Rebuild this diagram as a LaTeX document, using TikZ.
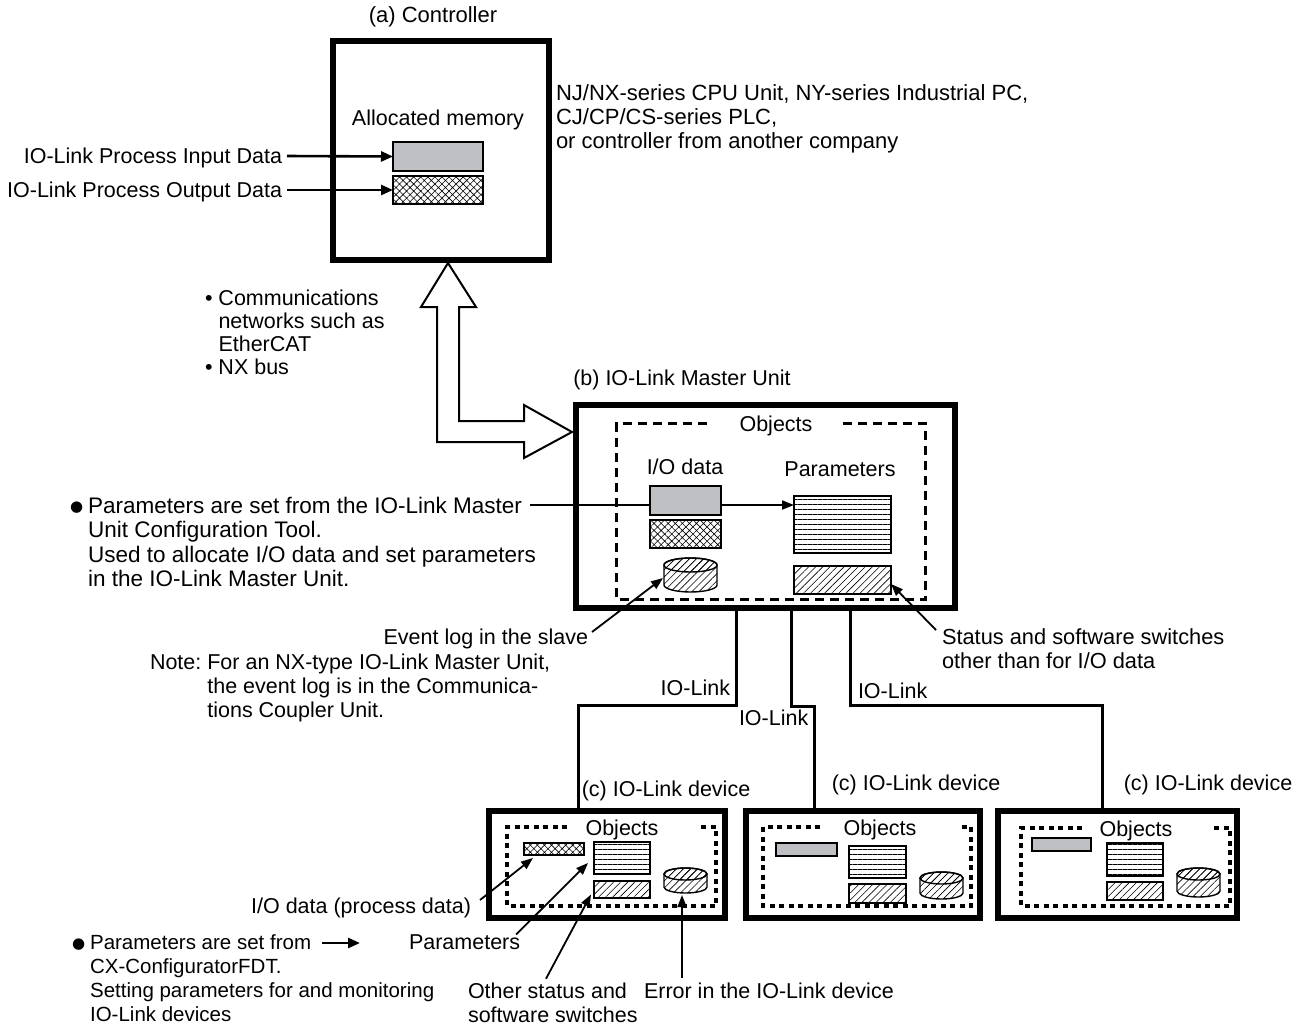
\documentclass[tikz,border=0pt]{standalone}
\usepackage{fontspec}
\setmainfont{Liberation Sans}
\newfontfamily\symfont{DejaVu Sans}
\usetikzlibrary{arrows.meta,patterns.meta,backgrounds,calc}
\definecolor{memgray}{RGB}{190,192,196}
\newcommand\dfs{\fontsize{21.5}{24}\selectfont}
\newcommand\bigbul{\raisebox{1.5pt}{\symfont\fontsize{15}{15}\selectfont ●}}
\newcommand\ocyl[5]{%
  \draw[line width=1.4pt, dlines] (#1-#4,#2) -- (#1-#4,#3)
    arc[start angle=180,end angle=360,x radius=#4pt,y radius=#5pt]
    -- (#1+#4,#2)
    arc[start angle=0,end angle=180,x radius=#4pt,y radius=#5pt] -- cycle;
  \draw[line width=1.4pt, dlines] (#1,#2) ellipse[x radius=#4pt, y radius=#5pt];}
\begin{document}
\begin{tikzpicture}[x=1pt,y=-1pt, font=\dfs,
  txt/.style={inner sep=0pt, outer sep=0pt, text height=15pt, text depth=0pt},
  blk/.style={inner sep=0pt, outer sep=0pt, anchor=north west},
  bigbox/.style={draw, line width=6pt, inner sep=0pt, outer sep=0pt},
  devbox/.style={draw, line width=6pt, inner sep=0pt, outer sep=0pt},
  mem/.style={draw, line width=1.5pt, inner sep=0pt, outer sep=0pt},
  grayfill/.style={fill=memgray},
  xhatch/.style={pattern={Hatch[angle=45,distance=5pt,line width=0.6pt]}},
  hlines/.style={pattern={Lines[angle=0,distance=5pt,line width=0.7pt]}},
  dlines/.style={pattern={Lines[angle=45,distance=5pt,line width=0.6pt]}},
  ptr/.style={line width=1.8pt, -{Triangle[length=12pt,width=9pt]}},
  cptr/.style={line width=2.6pt, -{Triangle[length=12pt,width=10pt]}},
  link/.style={line width=3pt},
  objm/.style={line width=3pt, dash pattern=on 9pt off 6pt},
  objd/.style={line width=3.5pt, dash pattern=on 5pt off 4.5pt},
  hollow/.style={draw, line width=2pt, fill=white, line join=miter},
]
\useasboundingbox (0,0) rectangle (1302,1029);

% ---------------- Controller ----------------
\node[txt, font=\fontsize{22}{24}\selectfont] (actl) at (433,15) {(a) Controller};
\node[bigbox, minimum width=216pt, minimum height=219pt] (ctrl) at (441,150.5) {};
\node[txt] (alloc) at (438,118) {Allocated memory};
\node[mem, grayfill, minimum width=90pt, minimum height=29pt] (cin) at (438,156.5) {};
\node[mem, xhatch, minimum width=90pt, minimum height=28pt] (cout) at (438,190) {};
\node[txt, anchor=east] (inlbl) at (282,156) {IO-Link Process Input Data};
\node[txt, anchor=east] (outlbl) at (282,190) {IO-Link Process Output Data};
\draw[cptr] ([xshift=5pt]inlbl.east) -- (cin.west);
\draw[cptr] ([xshift=5pt]outlbl.east) -- (cout.west);

\node[blk] (ctypes) at (556,83.5) {\fontsize{22}{24}\selectfont\begin{tabular}{@{}l@{}}NJ/NX-series CPU Unit, NY-series Industrial PC,\\CJ/CP/CS-series PLC,\\or controller from another company\end{tabular}};

% network text
\node[blk] (netlbl) at (205,289.4) {\fontsize{21.5}{23}\selectfont\begin{tabular}{@{}l@{\ }l@{}}•&Communications\\&networks such as\\&EtherCAT\\•&NX bus\end{tabular}};

% ---------------- Master ----------------
\node[txt] (bmlbl) at (682,378) {(b) IO-Link Master Unit};
\node[bigbox, minimum width=379pt, minimum height=203pt] (master) at (765.5,506.5) {};

% hollow double arrow
\draw[hollow] (448,263) -- (476,307) -- (459,307) -- (459,421) -- (524,421) -- (524,405)
  -- (572,432) -- (524,458) -- (524,442) -- (437,442) -- (437,307) -- (421,307) -- cycle;

\draw[objm] (707,423.5) -- (616.5,423.5) -- (616.5,599.5) -- (925.5,599.5) -- (925.5,423.5) -- (842,423.5);
\node[txt] (mobj) at (776,424) {Objects};
\node[txt] (mio) at (685,467) {I/O data};
\node[txt] (mpar) at (840,469) {Parameters};
\node[mem, grayfill, minimum width=71pt, minimum height=29pt] (mgray) at (685.5,500.5) {};
\node[mem, xhatch, minimum width=71pt, minimum height=28pt] (mx) at (685.5,534) {};
\node[mem, hlines, minimum width=97pt, minimum height=57pt] (mparam) at (842.5,524.5) {};
\node[mem, dlines, minimum width=97pt, minimum height=28pt] (mhatch) at (842.5,580) {};
\ocyl{690.5}{565}{585}{26.5}{7}
\coordinate (mcyl) at (663,578);

\node[blk] (mbullet) at (70,496.2) {\fontsize{22.5}{24.5}\selectfont\begin{tabular}{@{}l@{\hspace{5pt}}l@{}}\bigbul&Parameters are set from the IO-Link Master\\&Unit Configuration Tool.\\&Used to allocate I/O data and set parameters\\&in the IO-Link Master Unit.\end{tabular}};
\coordinate (mp0) at (530,505);
\begin{pgfonlayer}{background}
\draw[ptr] (mp0) -- (mp0 -| mparam.west);
\end{pgfonlayer}

\node[txt, anchor=east] (evlbl) at (588,637) {Event log in the slave};
\draw[ptr] ([xshift=4pt,yshift=5pt]evlbl.east) -- (mcyl);
\node[blk] (note) at (150,652.7) {\begin{tabular}{@{}l@{\ }l@{}}Note:&For an NX-type IO-Link Master Unit,\\&the event log is in the Communica-\\&tions Coupler Unit.\end{tabular}};
\node[blk] (stlbl) at (942,627.7) {\fontsize{21.8}{24}\selectfont\begin{tabular}{@{}l@{}}Status and software switches\\other than for I/O data\end{tabular}};
\draw[ptr] ([xshift=-6pt,yshift=-2.3pt]stlbl.north west) -- ([yshift=-4pt]mhatch.east);

% ---------------- Devices ----------------
\node[devbox, minimum width=236pt, minimum height=107pt] (dev1) at (607,864.5) {};
\node[devbox, minimum width=234pt, minimum height=107pt] (dev2) at (863,864.5) {};
\node[devbox, minimum width=239pt, minimum height=107pt] (dev3) at (1117.5,864.5) {};
\node[txt] (d1lbl) at (666,789) {(c) IO-Link device};
\node[txt] (d2lbl) at (916,783) {(c) IO-Link device};
\node[txt] (d3lbl) at (1208,783) {(c) IO-Link device};

% links
\draw[link] (master.south -| 736,0) -- (736,705) -| (dev1.north -| 578,0);
\draw[link] (master.south -| 791,0) -- (791,706) -| (dev2.north -| 814,0);
\draw[link] (master.south -| 850,0) -- (850,705) -| (dev3.north -| 1102,0);
\node[txt, anchor=east] (lk1) at (730,688) {IO-Link};
\node[txt, anchor=west] (lk2) at (739,718) {IO-Link};
\node[txt, anchor=west] (lk3) at (858,691) {IO-Link};

% device 1 contents
\draw[objd] (567,827) -- (507,827) -- (507,906) -- (716,906) -- (716,827) -- (700,827);
\node[txt] (d1obj) at (622,828) {Objects};
\node[mem, xhatch, minimum width=60pt, minimum height=12pt] (d1x) at (554,849) {};
\node[mem, hlines, minimum width=56pt, minimum height=32pt] (d1h) at (622,858) {};
\node[mem, dlines, minimum width=56pt, minimum height=17pt] (d1s) at (622,889.5) {};
\ocyl{685.5}{874}{887}{21.5}{6}
\coordinate (d1cyl) at (682,895);

% device 2 contents
\draw[objd] (820,827) -- (763,827) -- (763,906) -- (971,906) -- (971,827) -- (958,827);
\node[txt] (d2obj) at (880,828) {Objects};
\node[mem, grayfill, minimum width=61pt, minimum height=13pt] (d2g) at (806.5,849.5) {};
\node[mem, hlines, minimum width=57pt, minimum height=32pt] (d2h) at (877.5,862) {};
\node[mem, dlines, minimum width=57pt, minimum height=19pt] (d2s) at (877.5,893.5) {};
\ocyl{941.5}{878}{893}{21.5}{6}

% device 3 contents
\draw[objd] (1082,828) -- (1021,828) -- (1021,906) -- (1230,906) -- (1230,828) -- (1214,828);
\node[txt] (d3obj) at (1136,829) {Objects};
\node[mem, grayfill, minimum width=59pt, minimum height=13pt] (d3g) at (1061.5,844.5) {};
\node[mem, hlines, minimum width=56pt, minimum height=33pt] (d3h) at (1135,859.5) {};
\node[mem, dlines, minimum width=56pt, minimum height=18pt] (d3s) at (1135,891) {};
\ocyl{1198.5}{874}{891}{21.5}{6}

% bottom labels
\node[txt, anchor=east] (iolbl) at (471,906) {I/O data (process data)};
\draw[ptr] ([xshift=9pt,yshift=6pt]iolbl.east) -- ([xshift=9pt,yshift=-3pt]d1x.south west);
\node[txt, anchor=west] (pblbl) at (409,942) {Parameters};
\draw[ptr] ([xshift=-4pt]pblbl.north east) -- ([xshift=-6pt,yshift=-5pt]d1h.west);
\node[blk] (oslbl) at (468,981.7) {\begin{tabular}{@{}l@{}}Other status and\\software switches\end{tabular}};
\draw[ptr] ([xshift=78pt,yshift=3pt]oslbl.north west) -- ([xshift=-3pt,yshift=-5pt]d1s.west);
\node[txt, anchor=west] (erlbl) at (644,991) {Error in the IO-Link device};
\coordinate (er0) at (682,978);
\draw[ptr] (er0) -- (d1cyl);

\node[blk] (dbullet) at (72,932.7) {\fontsize{20.5}{24}\selectfont\begin{tabular}{@{}l@{\hspace{5pt}}l@{}}\bigbul&Parameters are set from\\&CX-ConfiguratorFDT.\\&Setting parameters for and monitoring\\&IO-Link devices\end{tabular}};
\coordinate (ba0) at (322,943);
\coordinate (ba1) at (360,943);
\draw[cptr] (ba0) -- (ba1);
\end{tikzpicture}
\end{document}
